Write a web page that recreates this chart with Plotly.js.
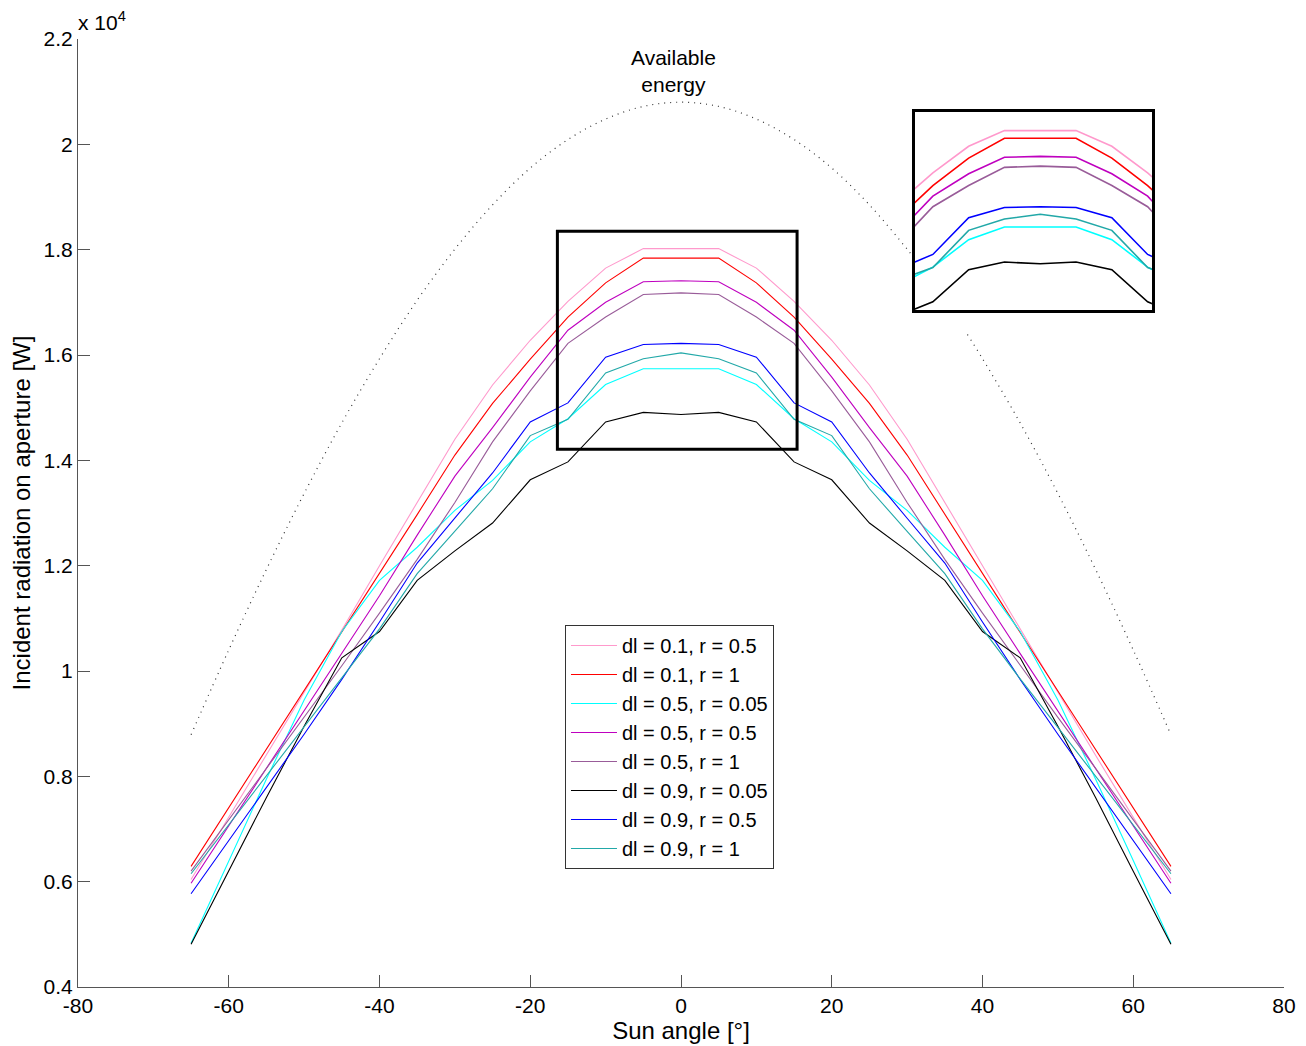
<!DOCTYPE html>
<html>
<head>
<meta charset="utf-8">
<script src="https://cdn.plot.ly/plotly-3.0.1.min.js"></script>
<style>
  html, body { margin: 0; padding: 0; background: #fff; }
  #chart { width: 1306px; height: 1046px; }
</style>
</head>
<body>
<div id="chart"></div>
<script>
// Sun angle in degrees
const sunAngle = [-65, -60, -55, -50, -45, -40, -35, -30, -25, -20, -15, -10, -5, 0,
                  5, 10, 15, 20, 25, 30, 35, 40, 45, 50, 55, 60, 65];

// Incident radiation on aperture, in units of 1e4 W
const dl01_r05 = [0.604, 0.722, 0.840, 0.960, 1.078, 1.200, 1.320, 1.440, 1.543, 1.628, 1.702, 1.765, 1.802, 1.802,
                  1.802, 1.765, 1.702, 1.628, 1.543, 1.440, 1.320, 1.200, 1.078, 0.960, 0.840, 0.722, 0.604];
const dl01_r1  = [0.629, 0.740, 0.851, 0.962, 1.073, 1.185, 1.297, 1.410, 1.508, 1.592, 1.672, 1.737, 1.784, 1.784,
                  1.784, 1.737, 1.672, 1.592, 1.508, 1.410, 1.297, 1.185, 1.073, 0.962, 0.851, 0.740, 0.629];
const dl05_r005 = [0.483, 0.640, 0.795, 0.945, 1.075, 1.172, 1.235, 1.305, 1.362, 1.435, 1.479, 1.544, 1.574, 1.574,
                   1.574, 1.544, 1.479, 1.435, 1.362, 1.305, 1.235, 1.172, 1.075, 0.945, 0.795, 0.640, 0.483];
const dl05_r05 = [0.597, 0.706, 0.815, 0.924, 1.033, 1.143, 1.258, 1.370, 1.462, 1.558, 1.647, 1.700, 1.739, 1.741,
                  1.739, 1.700, 1.647, 1.558, 1.462, 1.370, 1.258, 1.143, 1.033, 0.924, 0.815, 0.706, 0.597];
const dl05_r1  = [0.620, 0.717, 0.815, 0.912, 1.010, 1.110, 1.212, 1.320, 1.435, 1.532, 1.622, 1.672, 1.715, 1.718,
                  1.715, 1.672, 1.622, 1.532, 1.435, 1.320, 1.212, 1.110, 1.010, 0.912, 0.815, 0.717, 0.620];
const dl09_r005 = [0.481, 0.620, 0.760, 0.895, 1.025, 1.075, 1.172, 1.228, 1.281, 1.363, 1.397, 1.473, 1.491, 1.487,
                   1.491, 1.473, 1.397, 1.363, 1.281, 1.228, 1.172, 1.075, 1.025, 0.895, 0.760, 0.620, 0.481];
const dl09_r05 = [0.577, 0.678, 0.779, 0.880, 0.984, 1.093, 1.205, 1.290, 1.376, 1.473, 1.509, 1.596, 1.620, 1.622,
                  1.620, 1.596, 1.509, 1.473, 1.376, 1.290, 1.205, 1.093, 0.984, 0.880, 0.779, 0.678, 0.577];
const dl09_r1  = [0.615, 0.708, 0.800, 0.893, 0.985, 1.080, 1.185, 1.265, 1.346, 1.447, 1.478, 1.566, 1.593, 1.604,
                  1.593, 1.566, 1.478, 1.447, 1.346, 1.265, 1.185, 1.080, 0.985, 0.893, 0.800, 0.708, 0.615];

// Available energy (dotted reference curve); the null leaves the gap next to the inset
const availAngle  = [-65, -60, -55, -50, -45, -40, -35, -30, -25, -20, -15, -10, -5, 0,
                     5, 10, 15, 20, 25, 30, 31, null, 38, 40, 45, 50, 55, 60, 65];
const availEnergy = [0.879, 1.040, 1.193, 1.337, 1.471, 1.593, 1.704, 1.801, 1.885, 1.955, 2.009, 2.048, 2.072, 2.080,
                     2.072, 2.048, 2.009, 1.955, 1.885, 1.801, 1.783, null, 1.639, 1.593, 1.471, 1.337, 1.193, 1.040, 0.879];

const seriesNames = ['dl = 0.1, r = 0.5', 'dl = 0.1, r = 1', 'dl = 0.5, r = 0.05', 'dl = 0.5, r = 0.5',
                     'dl = 0.5, r = 1', 'dl = 0.9, r = 0.05', 'dl = 0.9, r = 0.5', 'dl = 0.9, r = 1'];
const seriesValues = [dl01_r05, dl01_r1, dl05_r005, dl05_r05, dl05_r1, dl09_r005, dl09_r05, dl09_r1];
const seriesColors = ['#ff99cc', '#ff0000', '#00ffff', '#bf00bf', '#995c99', '#000000', '#0000ff', '#22a8a8'];

const yTickVals = [0.4, 0.6, 0.8, 1.0, 1.2, 1.4, 1.6, 1.8, 2.0, 2.2];
const yTickText = ['0.4', '0.6', '0.8', '1', '1.2', '1.4', '1.6', '1.8', '2', '2.2'];
const xTickVals = [-80, -60, -40, -20, 0, 20, 40, 60, 80];
const xTickText = ['-80', '-60', '-40', '-20', '0', '20', '40', '60', '80'];

const FONT = 'Arial, "Liberation Sans", sans-serif';

const traces = [];

traces.push({
  x: availAngle, y: availEnergy, type: 'scatter', mode: 'lines',
  line: { color: '#333', width: 1.2, dash: '1px,5px', shape: 'spline' },
  connectgaps: false, showlegend: false, hoverinfo: 'skip'
});

seriesValues.forEach((vals, i) => {
  traces.push({
    x: sunAngle, y: vals, type: 'scatter', mode: 'lines', name: seriesNames[i],
    line: { color: seriesColors[i], width: 1.1 }, xaxis: 'x', yaxis: 'y'
  });
});

// magnified view of the peak region
seriesValues.forEach((vals, i) => {
  traces.push({
    x: sunAngle, y: vals, type: 'scatter', mode: 'lines', showlegend: false,
    line: { color: seriesColors[i], width: 1.6 }, xaxis: 'x2', yaxis: 'y2', hoverinfo: 'skip'
  });
});

const axisCommon = {
  showgrid: false, zeroline: false, showline: true, linecolor: '#555', linewidth: 1,
  ticks: 'inside', ticklen: 12, tickcolor: '#555', tickwidth: 1,
  tickfont: { family: FONT, size: 21, color: '#000' }
};

const layout = {
  width: 1306, height: 1046,
  margin: { l: 78, r: 22, t: 39, b: 59 },
  paper_bgcolor: '#fff', plot_bgcolor: '#fff',
  font: { family: FONT, size: 21, color: '#000' },
  xaxis: Object.assign({}, axisCommon, {
    range: [-80, 80], tickmode: 'array', tickvals: xTickVals, ticktext: xTickText,
    title: { text: 'Sun angle [°]', font: { family: FONT, size: 24 }, standoff: 2 }
  }),
  yaxis: Object.assign({}, axisCommon, {
    range: [0.4, 2.2], tickmode: 'array', tickvals: yTickVals, ticktext: yTickText,
    title: { text: 'Incident radiation on aperture [W]', font: { family: FONT, size: 24 }, standoff: 6 }
  }),
  xaxis2: {
    domain: [0.694, 0.8905], anchor: 'y2', range: [-17.5, 15.6],
    showgrid: false, zeroline: false, showticklabels: false, ticks: '',
    showline: true, mirror: true, linecolor: '#000', linewidth: 3
  },
  yaxis2: {
    domain: [0.7139, 0.9225], anchor: 'x2', range: [1.377, 1.845],
    showgrid: false, zeroline: false, showticklabels: false, ticks: '',
    showline: true, mirror: true, linecolor: '#000', linewidth: 3
  },
  shapes: [{
    type: 'rect', xref: 'x', yref: 'y', x0: -16.4, x1: 15.4, y0: 1.421, y1: 1.835,
    line: { color: '#000', width: 3 }, fillcolor: 'rgba(0,0,0,0)'
  }],
  annotations: [
    {
      xref: 'x', yref: 'y', x: -1.0, y: 2.139, text: 'Available<br>energy', showarrow: false,
      font: { family: FONT, size: 21, color: '#000' }, xanchor: 'center', yanchor: 'middle'
    },
    {
      xref: 'paper', yref: 'paper', x: -0.002, y: 1.0, xanchor: 'left', yanchor: 'bottom', yshift: 3,
      text: 'x 10<sup>4</sup>', showarrow: false, font: { family: FONT, size: 21, color: '#000' }
    }
  ],
  legend: {
    x: 0.4038, y: 0.3819, xanchor: 'left', yanchor: 'top',
    bgcolor: '#fff', bordercolor: '#333', borderwidth: 1,
    font: { family: FONT, size: 20, color: '#000' }, itemwidth: 46, tracegroupgap: 0
  },
  showlegend: true,
  hovermode: false
};

Plotly.newPlot('chart', traces, layout, { staticPlot: true, displayModeBar: false });
</script>
</body>
</html>
